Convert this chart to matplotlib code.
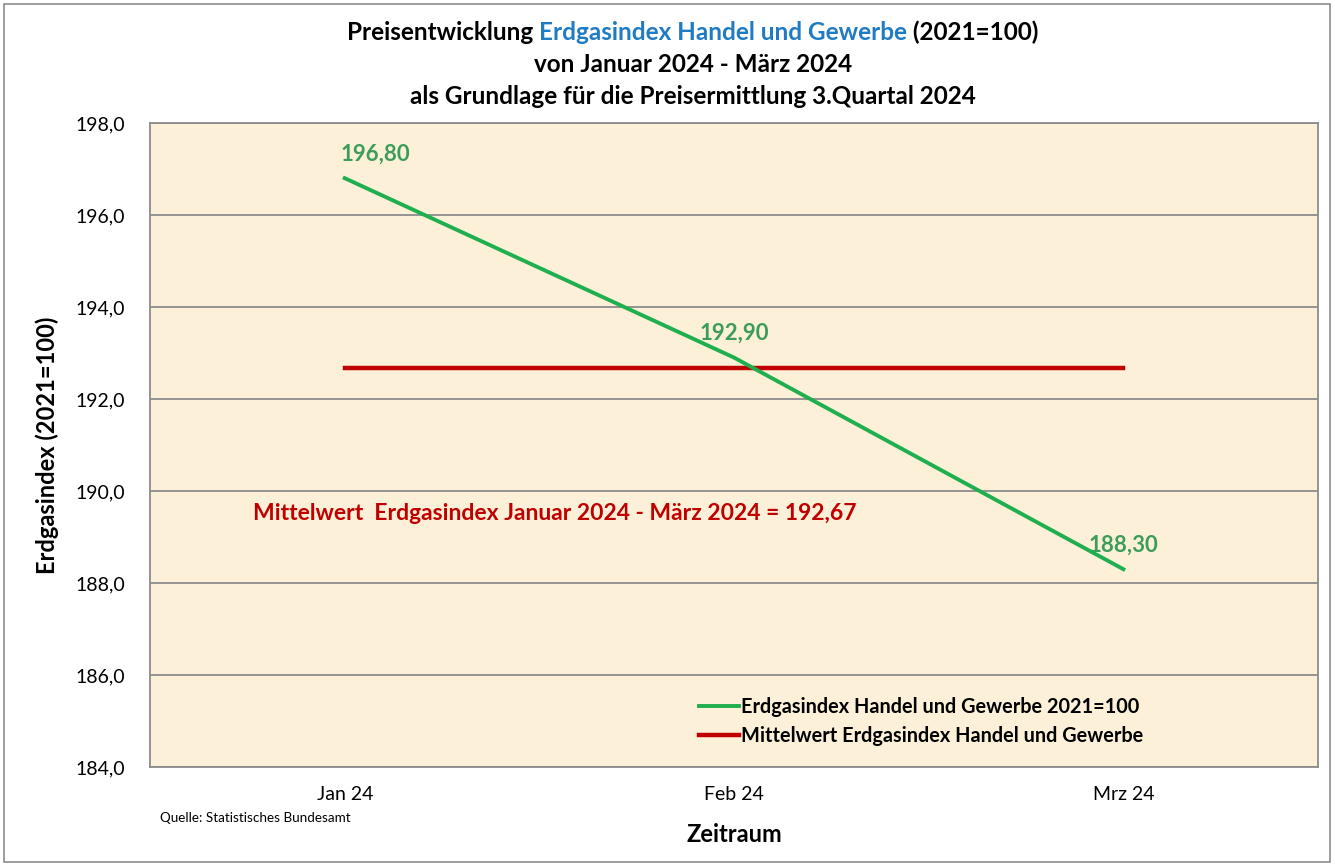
import numpy as np
import matplotlib.pyplot as plt
from matplotlib.patches import Rectangle

plt.rcParams['font.family'] = ['Lato', 'DejaVu Sans']

months = ["Jan 24", "Feb 24", "Mrz 24"]
index_values = [196.80, 192.90, 188.30]
mean_value = 192.67
mean_values = [mean_value, mean_value, mean_value]
y_ticks = [184, 186, 188, 190, 192, 194, 196, 198]

green = "#1FAF4F"
label_green = "#3C9C5C"
dark_red = "#C00000"
blue = "#1F7BC4"

fig = plt.figure(figsize=(13.35, 8.66), dpi=100)
ax = fig.add_axes([0.1124, 0.1143, 0.8749, 0.7437])
ax.set_facecolor("#FCF1D8")

x = np.arange(len(months))
ax.plot(x, mean_values, color=dark_red, lw=3.2, zorder=3,
        label="Mittelwert Erdgasindex Handel und Gewerbe")
ax.plot(x, index_values, color=green, lw=2.8, zorder=4,
        label="Erdgasindex Handel und Gewerbe 2021=100")

# first label sits a bit right of its point in the original
label_dx = [22, 0, 0]
for xi, v, dx in zip(x, index_values, label_dx):
    ax.annotate(f"{v:.2f}".replace(".", ","), (xi, v), xytext=(dx, 10),
                textcoords="offset points", ha="center", va="bottom",
                color=label_green, fontsize=16, fontweight="bold")

ax.text(-0.235, 189.5, "Mittelwert  Erdgasindex Januar 2024 - März 2024 = "
        + f"{mean_value:.2f}".replace(".", ","),
        color=dark_red, fontsize=16.5, fontweight="bold", va="center", ha="left")

ax.set_xlim(-0.5, 2.5)
ax.set_ylim(184, 198)
ax.set_xticks(x)
ax.set_xticklabels(months, fontsize=14)
ax.set_yticks(y_ticks)
ax.set_yticklabels([f"{t:.1f}".replace(".", ",") for t in y_ticks], fontsize=14)
ax.tick_params(length=0, pad=14)
ax.tick_params(axis="y", pad=18)
ax.grid(axis="y", color="#8C8C8C", lw=1.3)
ax.set_axisbelow(True)
for s in ax.spines.values():
    s.set_color("#8C8C8C")
    s.set_linewidth(1.3)

ax.set_ylabel("Erdgasindex (2021=100)", fontsize=17, fontweight="bold", labelpad=12)
ax.set_xlabel("Zeitraum", fontsize=17, fontweight="bold", labelpad=14)

h, l = ax.get_legend_handles_labels()
ax.legend(h[::-1], l[::-1], loc="lower left", bbox_to_anchor=(0.455, 0.005),
          frameon=False, handlelength=2.0, handletextpad=0.1,
          labelspacing=0.45, prop={"weight": "bold", "size": 14.3})

# title, middle part in blue
t1 = fig.text(0.5, 0.963, "Preisentwicklung ", fontsize=17.5, fontweight="bold",
              ha="center", va="center", color="white")
fig.canvas.draw()
r = fig.canvas.get_renderer()
parts = [("Preisentwicklung ", "black"), ("Erdgasindex Handel und Gewerbe", blue),
         (" (2021=100)", "black")]
widths = []
for s, c in parts:
    t1.set_text(s)
    widths.append(t1.get_window_extent(r).width)
t1.remove()
xs = 0.519 * fig.bbox.width - sum(widths) / 2
for (s, c), w in zip(parts, widths):
    fig.text(xs / fig.bbox.width, 0.963, s, fontsize=17.5, fontweight="bold",
             ha="left", va="center", color=c)
    xs += w
fig.text(0.519, 0.926, "von Januar 2024 - März 2024", fontsize=17.5,
         fontweight="bold", ha="center", va="center")
fig.text(0.519, 0.888, "als Grundlage für die Preisermittlung 3.Quartal 2024",
         fontsize=17.5, fontweight="bold", ha="center", va="center")

fig.text(0.12, 0.055, "Quelle: Statistisches Bundesamt", fontsize=9.7,
         ha="left", va="center")

fig.add_artist(Rectangle((0.003, 0.005), 0.993, 0.99, transform=fig.transFigure,
                         fill=False, edgecolor="#8C8C8C", lw=1.2))

fig.savefig("out.png", dpi=100)
